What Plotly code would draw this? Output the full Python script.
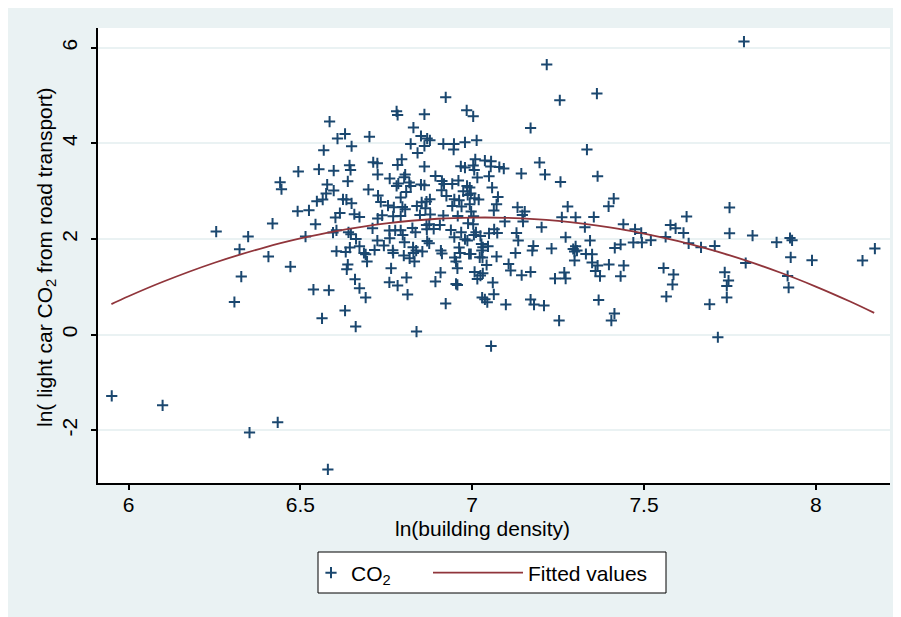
import plotly.graph_objects as go

# ---- data ----
density = [
    6.255,6.348,6.323,6.328,6.308,6.407,6.419,6.441,6.445,6.494,6.492,6.471,5.951,6.099,6.352,6.434,
    7.791,7.749,7.624,7.577,7.592,7.615,7.563,7.492,7.494,7.52,7.63,7.666,7.706,7.749,7.816,7.796,7.886,7.925,7.931,7.927,7.918,7.921,7.989,8.136,8.172,7.557,7.586,7.583,7.565,7.691,7.715,7.735,7.746,7.741,7.741,
    7.217,7.055,6.58,
    6.585,6.63,6.608,6.701,6.568,6.649,6.643,6.646,6.712,6.724,6.725,6.554,6.597,6.638,6.578,6.575,6.597,6.698,6.548,6.565,6.624,6.634,6.649,6.726,6.734,6.525,6.615,6.602,6.657,6.672,6.725,
    6.923,6.78,6.783,6.861,6.984,6.829,6.851,6.869,6.877,6.821,6.861,6.916,6.947,6.946,6.979,6.841,6.795,6.783,6.861,6.967,6.979,6.805,6.802,6.76,6.785,6.78,6.817,6.821,6.851,6.861,6.893,6.912,6.918,6.942,6.96,6.985,6.808,6.792,6.911,6.925,6.974,6.987,6.877,6.867,6.853,6.948,6.962,6.755,6.772,6.797,6.805,6.839,6.864,6.942,6.969,6.993,6.738,6.77,6.792,6.848,6.878,6.916,6.958,
    7.003,7.17,7.013,7.009,7.037,7.055,7.003,7.006,7.054,7.079,7.092,7.196,7.143,7.212,7.257,7.015,7.049,7.058,6.993,6.996,7.007,7.019,7.075,7.071,7.063,7.132,7.153,7.146,6.997,7.004,
    7.255,7.363,7.334,7.365,7.412,7.397,7.278,7.301,7.354,7.261,
    6.544,6.605,6.515,6.595,6.64,6.647,6.662,6.71,6.724,6.605,6.632,6.644,6.672,6.685,6.69,6.716,6.694,6.638,6.635,6.659,6.538,6.583,6.672,6.69,6.63,6.563,6.661,
    6.759,6.776,6.792,6.798,6.76,6.803,6.743,6.826,6.835,6.867,6.875,6.868,6.888,6.906,6.938,6.968,6.988,6.869,6.875,6.948,6.979,6.986,6.769,6.77,6.828,6.837,6.855,6.829,6.801,6.818,6.832,6.909,6.912,6.962,6.965,6.949,6.953,6.991,6.764,6.957,6.908,6.809,6.759,6.893,6.783,6.953,6.957,6.812,6.923,6.838,
    7.095,7.148,7.202,7.003,7.011,7.005,7.024,7.049,7.064,7.073,7.129,7.134,7.027,7.031,7.046,7.028,7.178,7.175,7.231,7.126,6.996,7.022,7.03,7.071,7.042,7.106,7.112,7.17,7.144,7.241,7.007,7.031,7.024,7.015,7.06,7.063,7.029,7.037,7.044,7.098,7.17,7.18,7.209,7.253,
    7.44,7.474,7.328,7.272,7.343,7.469,7.415,7.432,7.301,7.294,7.305,7.298,7.331,7.349,7.298,7.349,7.365,7.398,7.441,7.359,7.268,7.272,7.372,7.432,7.368,7.414,7.405,
]
co2 = [
    2.155,2.05,1.785,1.213,0.682,1.632,2.322,3.186,3.04,3.41,2.58,1.42,-1.284,-1.479,-2.05,-1.835,
    6.13,2.657,2.469,2.293,2.224,2.126,2.042,2.126,1.925,1.973,1.91,1.826,1.854,2.119,2.071,1.498,1.931,2.021,1.973,1.617,1.226,0.983,1.554,1.548,1.799,1.393,1.255,1.046,0.795,0.634,-0.056,1.303,1.13,1.017,0.774,
    5.649,-0.24,-2.82,
    4.456,4.197,4.1,4.14,3.856,3.94,3.54,3.444,3.605,3.584,3.347,3.458,3.43,3.207,3.138,2.95,3.013,3.033,2.789,2.824,2.83,2.824,2.747,2.908,2.774,2.6,2.544,2.448,2.517,2.46,2.427,
    4.964,4.67,4.594,4.609,4.692,4.33,4.155,4.1,4.065,3.988,3.946,3.988,3.988,3.87,4.023,3.8,3.667,3.548,3.515,3.52,3.494,3.347,3.29,3.264,3.159,3.11,3.18,3.11,3.138,3.124,3.318,3.214,3.151,3.151,3.222,3.11,2.983,2.866,3.019,2.9,2.998,2.92,2.83,2.782,2.768,2.83,2.81,2.699,2.663,2.67,2.621,2.69,2.642,2.69,2.678,2.726,2.496,2.475,2.481,2.502,2.51,2.49,2.481,
    4.567,4.322,4.065,3.667,3.64,3.626,3.536,3.444,3.515,3.506,3.473,3.598,3.368,3.347,3.193,3.285,3.312,3.075,3.075,2.95,2.852,2.824,2.879,2.726,2.594,2.663,2.573,2.502,2.573,2.475,
    4.902,5.042,3.87,3.312,2.845,2.684,2.678,2.454,2.46,2.454,
    2.308,2.182,2.05,2.134,2.14,2.098,2.0,2.224,1.966,1.743,1.728,1.82,1.847,1.707,1.68,1.77,1.527,1.464,1.366,1.157,0.941,0.927,0.969,0.774,0.502,0.341,0.167,
    2.176,2.182,2.182,2.084,2.015,1.931,1.862,2.23,2.14,2.293,2.308,2.203,2.209,2.293,2.188,2.14,2.328,1.958,1.91,2.036,1.994,1.966,1.764,1.707,1.826,1.757,1.736,1.707,1.653,1.596,1.527,1.757,1.694,1.82,1.707,1.611,1.527,1.686,1.387,1.387,1.297,1.192,1.094,1.108,1.025,1.059,1.038,0.837,0.649,0.063,
    2.364,2.364,2.245,2.308,2.14,2.084,2.063,2.119,2.203,2.126,2.126,1.966,1.895,1.826,1.847,1.757,1.854,1.757,1.799,1.707,1.686,1.617,1.611,1.632,1.456,1.477,1.339,1.31,1.241,1.171,1.31,1.282,1.234,1.163,1.088,0.843,0.774,0.738,0.676,0.628,0.732,0.628,0.607,0.293,
    2.308,2.203,2.245,2.036,1.966,1.925,1.812,1.883,1.847,1.791,1.757,1.736,1.686,1.68,1.548,1.506,1.444,1.464,1.444,1.331,1.297,1.171,1.22,1.22,0.724,0.439,0.293,
]

fit_x = [5.95, 6.0, 6.1, 6.25, 6.4, 6.5, 6.6, 6.75, 6.9, 7.0, 7.1, 7.25, 7.4, 7.5, 7.6, 7.75, 7.9, 8.0, 8.1, 8.17]
fit_y = [0.638, 0.802, 1.105, 1.503, 1.831, 2.011, 2.16, 2.326, 2.423, 2.448, 2.443, 2.377, 2.242, 2.113, 1.953, 1.656, 1.288, 1.005, 0.691, 0.453]

x_ticks = [6, 6.5, 7, 7.5, 8]
x_tick_labels = ["6", "6.5", "7", "7.5", "8"]
y_ticks = [-2, 0, 2, 4, 6]
y_tick_labels = ["-2", "0", "2", "4", "6"]

NAVY = "#1a476f"
MAROON = "#90353b"
BG = "#eaf2f3"
FONT = "Liberation Sans, Arial, sans-serif"

W, H = 901, 617
OFF = 8  # page offset of the figure inside the browser window
# plot area in page pixels: x 98..890, y 28..483
L = 98 - OFF
T = 28 - OFF
PW, PH = 792, 455
R = W - L - PW
B = H - T - PH

def px2x(page_px):
    return (page_px - OFF - L) / PW

def py2y(page_py):
    return (T + PH - (page_py - OFF)) / PH

FS = 21

fig = go.Figure()
fig.add_trace(go.Scatter(
    x=density, y=co2, mode="markers", name="CO<sub>2</sub>",
    marker=dict(symbol="cross-thin-open", size=8, color=NAVY,
                line=dict(color=NAVY, width=2)),
    legend="legend",
))
fig.add_trace(go.Scatter(
    x=fit_x, y=fit_y, mode="lines", name="Fitted values",
    line=dict(color=MAROON, width=1.8, shape="spline"),
    legend="legend2",
))

fig.update_layout(
    width=W, height=H,
    margin=dict(l=L, r=R, t=T, b=B, autoexpand=False),
    paper_bgcolor=BG, plot_bgcolor="white",
    font=dict(family=FONT, size=FS, color="black"),
    showlegend=True,
    legend=dict(x=px2x(311), y=py2y(573), xanchor="left", yanchor="middle",
                orientation="h", itemwidth=30, bgcolor="rgba(0,0,0,0)",
                font=dict(size=FS)),
    legend2=dict(x=px2x(428), y=py2y(573), xanchor="left", yanchor="middle",
                 orientation="h", itemwidth=90, bgcolor="rgba(0,0,0,0)",
                 font=dict(size=FS)),
    xaxis=dict(range=[5.911, 8.216], tickvals=x_ticks, ticktext=x_tick_labels,
               showgrid=False, zeroline=False, showline=True, linecolor="black",
               linewidth=1.5, ticks="outside", ticklen=5, tickcolor="black",
               tickwidth=1.5, ticklabelstandoff=-3, tickfont=dict(size=FS)),
    yaxis=dict(range=[-3.105, 6.414], tickvals=y_ticks, ticktext=y_tick_labels,
               showgrid=True, gridcolor=BG, gridwidth=1.5, zeroline=False,
               showline=True, linecolor="black", linewidth=1.5, ticks="outside",
               ticklen=5, tickcolor="black", tickwidth=1.5, tickangle=-90,
               ticklabelstandoff=6, tickfont=dict(size=FS)),
    shapes=[dict(type="rect", xref="paper", yref="paper",
                 x0=px2x(318), x1=px2x(666), y0=py2y(593), y1=py2y(552),
                 fillcolor="white", line=dict(color="black", width=1), layer="below")],
    annotations=[
        dict(text="ln(building density)", xref="paper", yref="paper",
             x=px2x(482), y=py2y(528), showarrow=False, xanchor="center",
             yanchor="middle", font=dict(size=FS)),
        dict(text="ln( light car CO<sub>2</sub> from road transport)", xref="paper",
             yref="paper", x=px2x(46), y=py2y(257), showarrow=False,
             textangle=-90, xanchor="center", yanchor="middle", font=dict(size=FS)),
    ],
)

fig.write_html("out.html")
